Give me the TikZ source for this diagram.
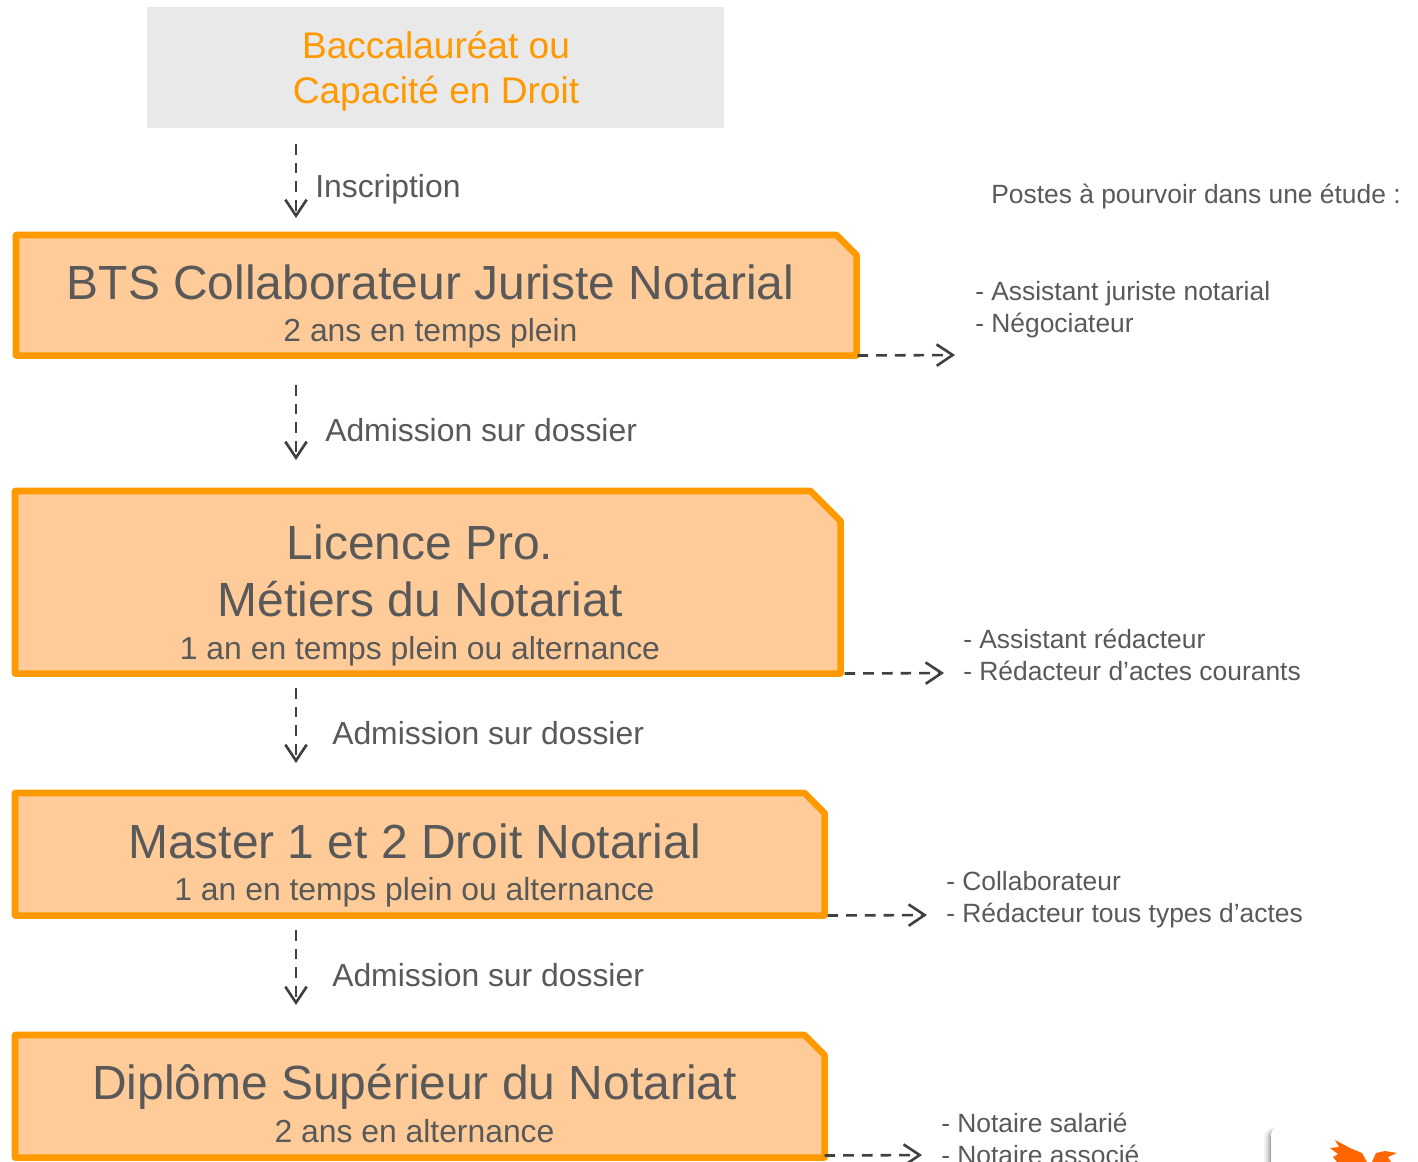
\documentclass[tikz,border=0pt]{standalone}
\usepackage{fontspec}
\setmainfont{Liberation Sans}
\usetikzlibrary{arrows.meta,calc}
\definecolor{txtgray}{HTML}{595959}
\definecolor{orangeline}{HTML}{FF9900}
\definecolor{orangefill}{HTML}{FFCC99}
\definecolor{graybox}{HTML}{E9E9E9}
\definecolor{arrowgray}{HTML}{404040}
\definecolor{birdorange}{HTML}{FF6600}
\newcommand{\fs}[2]{\fontsize{#1}{#2}\selectfont}
\tikzset{
  x=0.75pt,y=-0.75pt,
  flow/.style={draw=arrowgray,line width=1.95pt,dash pattern=on 8pt off 6pt,
    -{Straight Barb[length=12pt,width=16pt,line width=1.95pt]}},
  label/.style={inner sep=0pt,text=txtgray,font=\fs{23.9}{30}},
  jobs/.style={inner sep=0pt,text=txtgray,align=left,font=\fs{19.8}{24}},
  boxtext/.style={inner sep=0pt,text=txtgray,align=center},
  frame/.style={draw=orangeline,fill=orangefill,line width=4.9pt,line join=round},
  anchorbox/.style={inner sep=0pt,anchor=north west},
}
\newcommand{\notched}[6]{%
  \node[anchorbox,minimum width=#4*0.75pt-#2*0.75pt,minimum height=#5*0.75pt-#3*0.75pt] (#1) at (#2,#3) {};
  \draw[frame] (#1.north west) -- ($(#1.north east)+(-#6,0)$) -- ($(#1.north east)+(0,#6)$) -- (#1.south east) -- (#1.south west) -- cycle;
}
\begin{document}
\begin{tikzpicture}
\useasboundingbox (0,0) rectangle (1418,1161);
\fill[white] (0,0) rectangle (1418,1161);
\node[anchorbox,fill=graybox,minimum width=432.75pt,minimum height=90.75pt] (bac) at (147,7) {};
\node[inner sep=0pt,align=center,text=orangeline,font=\fs{27.8}{33.7}] (bactext) at (436,71.5) {Baccalauréat ou\\Capacité en Droit};

\notched{bts}{16}{235}{856}{355}{20}
\notched{lic}{15}{491}{840}{673}{30}
\notched{mas}{15}{793}{824}{915}{20}
\notched{dsn}{15}{1035}{824}{1157}{20}

\node[boxtext] (btstext) at (430.5,306.5) {\fs{35.95}{36}BTS Collaborateur Juriste Notarial\\[13.3pt]\fs{23.9}{24}2 ans en temps plein};
\node[boxtext] (lictext) at (420,595.5) {\fs{35.95}{43}Licence Pro.\\[15pt]\fs{35.95}{43}Métiers du Notariat\\[14pt]\fs{23.9}{24}1 an en temps plein ou alternance};
\node[boxtext] (mastext) at (414.5,865.5) {\fs{35.95}{36}Master 1 et 2 Droit Notarial\\[12.7pt]\fs{23.9}{24}1 an en temps plein ou alternance};
\node[boxtext] (dsntext) at (414.5,1103.5) {\fs{35.95}{36}Diplôme Supérieur du Notariat\\[6pt]\fs{23.9}{24}2 ans en alternance};

\coordinate (a1s) at (296,144); \coordinate (a1e) at (296,218);
\coordinate (a2s) at (296,385); \coordinate (a2e) at (296,460);
\coordinate (a3s) at (296,688); \coordinate (a3e) at (296,763);
\coordinate (a4s) at (296,930); \coordinate (a4e) at (296,1005);
\draw[flow] (a1s) -- (a1e);
\draw[flow] (a2s) -- (a2e);
\draw[flow] (a3s) -- (a3e);
\draw[flow] (a4s) -- (a4e);

\node[label,anchor=west] (l1) at (315,189) {Inscription};
\node[label,anchor=west] (l2) at (325,430) {Admission sur dossier};
\node[label,anchor=west] (l3) at (332,733) {Admission sur dossier};
\node[label,anchor=west] (l4) at (332,975) {Admission sur dossier};

\coordinate (j1) at (955,355);
\coordinate (j2) at (944,673);
\coordinate (j3) at (927,915);
\coordinate (j4) at (922,1155);
\draw[flow] (bts.south east) ++(1,0) -- (j1);
\draw[flow] (lic.south east) ++(4,0) -- (j2);
\draw[flow] (mas.south east) ++(3,0) -- (j3);
\draw[flow] (dsn.south east) ++(0,-2) -- (j4);

\node[jobs,anchor=west] (head) at (991,197) {Postes à pourvoir dans une étude :};
\node[jobs,anchor=north west] (p1) at (975,281) {- Assistant juriste notarial\\- Négociateur};
\node[jobs,anchor=north west] (p2) at (963,629) {- Assistant rédacteur\\- Rédacteur d’actes courants};
\node[jobs,anchor=north west] (p3) at (946,871) {- Collaborateur\\- Rédacteur tous types d’actes};
\node[jobs,anchor=north west] (p4) at (941,1113) {- Notaire salarié\\- Notaire associé};

% logo card
\begin{scope}
\clip (0,0) rectangle (1418,1161);
\foreach \d/\o in {7/0.05,5/0.08,3/0.12,1/0.18}{
  \fill[black,opacity=\o,rounded corners=7pt] (1271-\d,1130-\d*0.3) rectangle (1440,1200);
}
\fill[white,rounded corners=6pt] (1271,1127) rectangle (1440,1200);
\fill[birdorange] (1335,1140) -- (1350,1148) -- (1362,1153) -- (1367,1162) -- (1337,1162) -- (1333,1157) -- (1338,1154) -- (1330,1148) -- (1339,1147) -- cycle;
\fill[birdorange] (1372,1162) -- (1376,1153) -- (1385,1151) -- (1397,1153) -- (1388,1157) -- (1391,1162) -- cycle;
\end{scope}
\end{tikzpicture}
\end{document}
